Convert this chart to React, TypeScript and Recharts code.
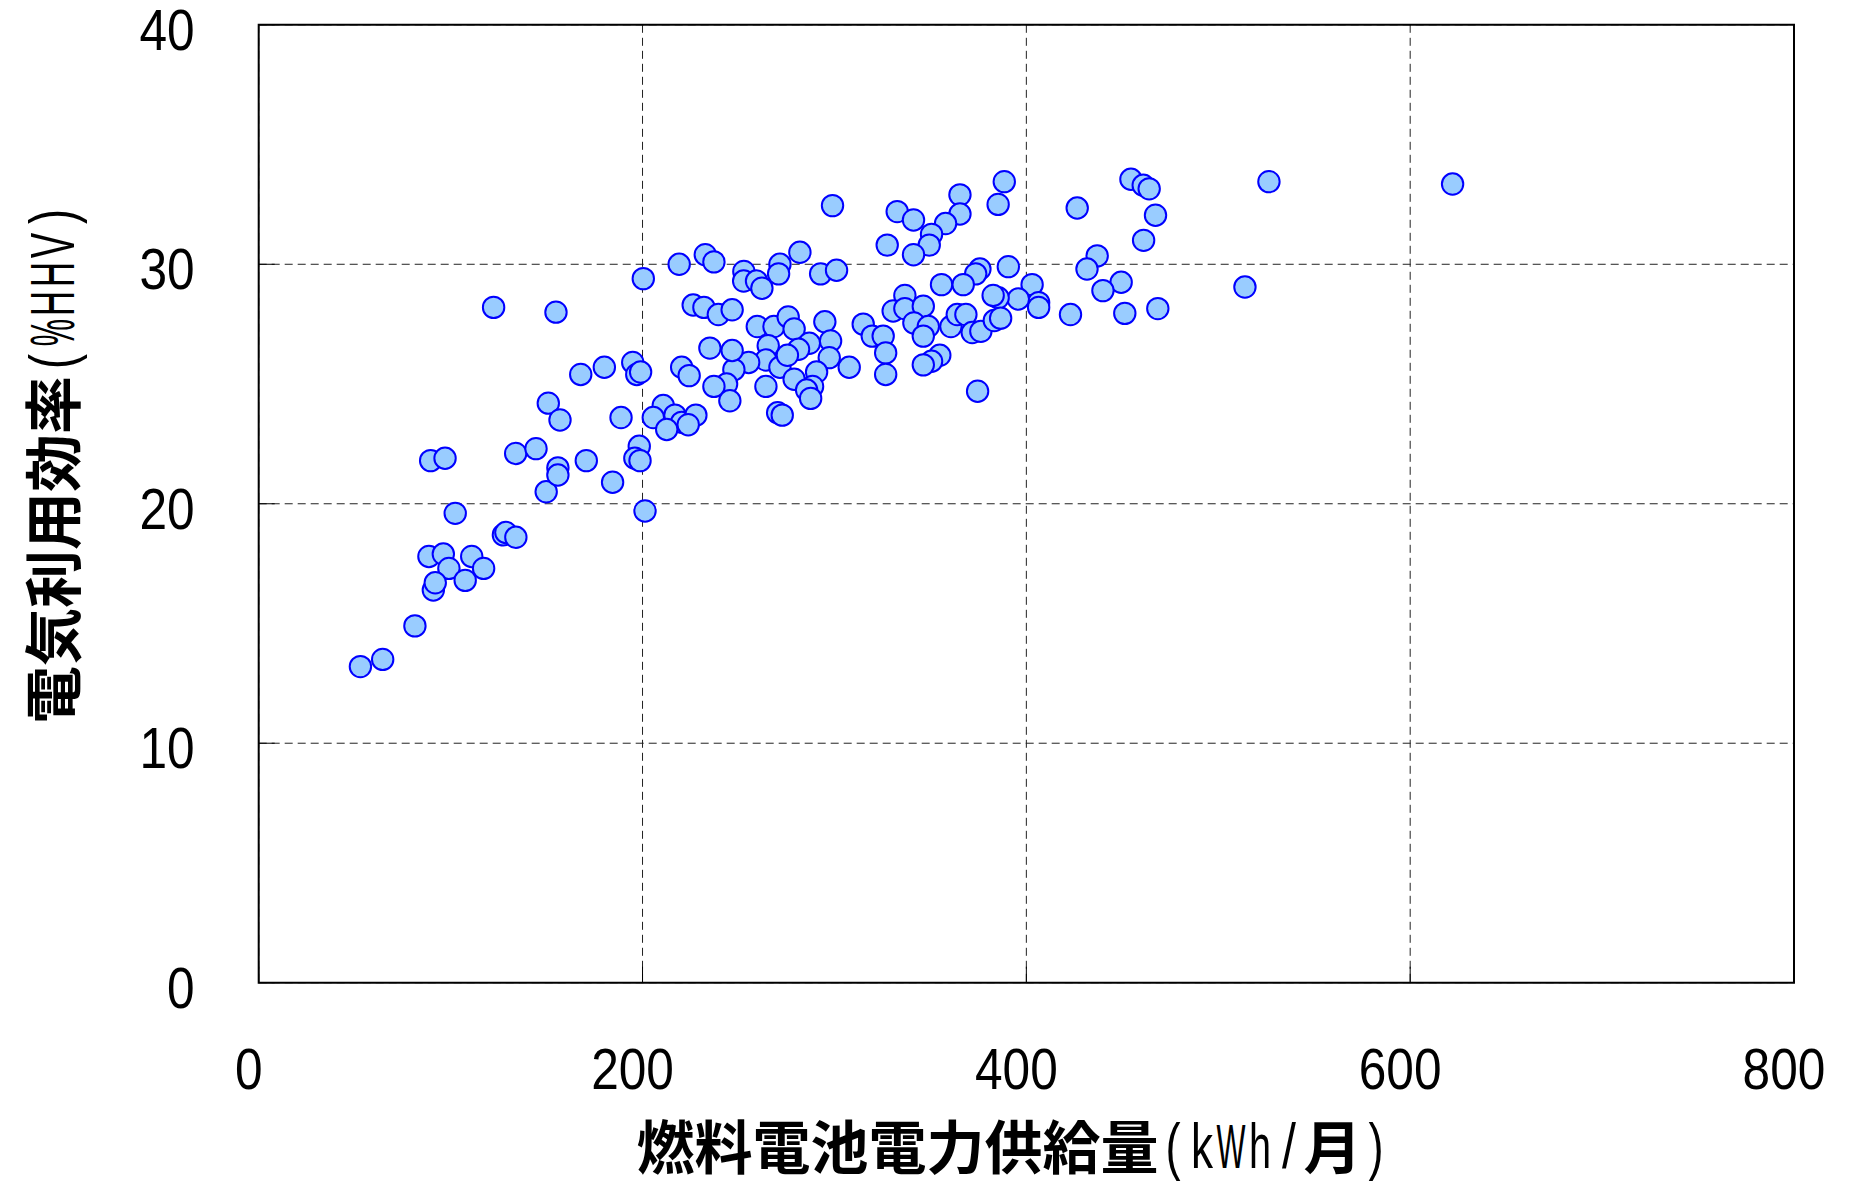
import React from 'react';
import { ScatterChart, Scatter, XAxis, YAxis, CartesianGrid, ReferenceArea, Label } from 'recharts';

// 燃料電池電力供給量 (kWh/月)
const supply = [
  53.0, 64.6, 81.4, 89.6, 97.1, 102.4, 88.7, 96.2, 99.1, 91.0,
  92.0, 107.6, 111.0, 117.2, 127.5, 128.8, 134.0, 133.9, 144.5, 150.9,
  157.0, 149.8, 155.9, 155.9, 170.7, 188.8, 184.4, 198.3, 196.0, 198.7,
  201.3, 122.4, 154.9, 167.8, 180.1, 194.9, 197.0, 199.0, 200.4, 219.1,
  232.7, 237.2, 282.0, 327.5, 252.8, 252.7, 259.4, 262.2, 271.6, 270.9,
  292.8, 301.1, 226.4, 232.0, 239.5, 246.7, 259.8, 268.5, 275.9, 279.0,
  295.0, 286.9, 281.3, 298.0, 297.3, 315.0, 319.7, 325.4, 326.7, 326.7,
  307.7, 265.5, 264.3, 271.6, 275.5, 255.3, 247.6, 246.7, 235.1, 243.8,
  237.2, 245.5, 264.3, 279.0, 290.7, 288.6, 285.5, 287.6, 270.4, 272.8,
  220.4, 224.3, 210.8, 205.6, 216.9, 220.4, 227.8, 223.8, 212.6, 299.0,
  388.5, 385.3, 365.4, 365.4, 332.7, 341.2, 357.9, 350.6, 349.4, 341.2,
  426.5, 454.5, 460.9, 464.0, 467.3, 461.1, 436.9, 431.6, 449.4, 439.9,
  451.3, 468.5, 423.0, 403.0, 406.4, 406.4, 395.8, 390.6, 375.8, 373.6,
  355.8, 367.1, 385.3, 382.7, 336.7, 330.6, 336.7, 346.3, 341.4, 348.9,
  346.3, 360.7, 364.0, 368.5, 371.8, 376.3, 383.3, 386.6, 354.9, 350.6,
  346.3, 374.6, 526.4, 513.9, 622.1,
];

// 電気利用効率 (%HHV)
const efficiency = [
  13.2, 13.5, 14.9, 21.8, 21.9, 19.6, 17.8, 17.9, 17.3, 16.4,
  16.7, 16.8, 17.8, 17.3, 18.7, 18.8, 18.6, 22.1, 22.3, 24.2,
  23.5, 20.5, 21.5, 21.2, 21.8, 23.6, 20.9, 22.4, 21.9, 21.8,
  19.7, 28.2, 28.0, 25.4, 25.7, 25.9, 25.4, 25.5, 29.4, 30.0,
  30.4, 30.1, 30.5, 30.8, 29.7, 29.3, 29.3, 29.0, 30.0, 29.6,
  29.6, 29.75, 28.3, 28.2, 27.9, 28.1, 27.4, 27.4, 27.8, 27.3,
  27.6, 26.7, 26.45, 26.8, 26.1, 27.5, 27.0, 27.0, 26.3, 25.4,
  25.7, 26.6, 26.0, 25.7, 26.2, 25.9, 25.6, 26.4, 26.5, 25.0,
  24.9, 24.3, 24.9, 25.2, 25.5, 24.9, 24.75, 24.4, 23.8, 23.7,
  25.7, 25.35, 24.1, 23.6, 23.7, 23.4, 23.7, 23.3, 23.1, 32.45,
  33.45, 32.5, 32.9, 32.1, 32.2, 31.85, 31.7, 31.25, 30.8, 30.4,
  32.35, 33.55, 33.3, 33.15, 32.05, 31.0, 30.35, 29.8, 29.25, 28.9,
  27.95, 28.15, 27.9, 29.15, 28.4, 28.2, 28.55, 29.9, 29.8, 29.6,
  29.15, 29.15, 28.6, 28.7, 28.7, 28.05, 28.15, 28.25, 27.55, 27.4,
  27.0, 27.4, 27.9, 27.9, 27.15, 27.2, 27.65, 27.75, 26.2, 25.95,
  25.8, 24.7, 33.45, 29.05, 33.35,
];

const xTicks = [0, 200, 400, 600, 800];
const yTicks = [0, 10, 20, 30, 40];
const xTitle = '燃料電池電力供給量(kWh/月)';
const yTitle = '電気利用効率(%HHV)';

const data = supply.map((x, i) => ({ x, y: efficiency[i] }));

const W = 1852;
const H = 1184;
const PLOT_LEFT = 258.7;
const PLOT_RIGHT = 1794;
const PLOT_TOP = 24.8;
const PLOT_BOTTOM = 982.7;
const YAXIS_W = 200;
const XAXIS_H = 120;

const NUM_FONT = '"Liberation Sans", Arial, sans-serif';
const CJK_FONT = '"Noto Sans CJK JP", "Noto Sans CJK SC", sans-serif';
const TITLE_EM = 58;
const TITLE_ASCII_SIZE = 63;
const TICK_FONT = 58;
const DIGIT_W = 27.6; // condensed digit advance

// condensed widths (in em of TITLE_EM) used to squeeze half-width glyphs into their cells
const narrowWidth: Record<string, number> = {
  '(': 0.26, ')': 0.26, k: 0.38, W: 0.5, h: 0.38, '/': 0.24, '%': 0.47, H: 0.44, V: 0.44,
};

const isWide = (ch: string) => ch.charCodeAt(0) > 0x2000;

function layoutTitle(text: string, em: number) {
  const chars = Array.from(text);
  const total = chars.reduce((s, c) => s + (isWide(c) ? em : em / 2), 0);
  let pos = -total / 2;
  return chars.map((ch) => {
    const w = isWide(ch) ? em : em / 2;
    const c = pos + w / 2;
    pos += w;
    return { ch, c, wide: isWide(ch) };
  });
}

const TitleChars = ({ text, cx, baseline }: { text: string; cx: number; baseline: number }) => (
  <g>
    {layoutTitle(text, TITLE_EM).map((s, i) =>
      s.wide ? (
        <text
          key={i}
          x={cx + s.c}
          y={baseline}
          textAnchor="middle"
          fontSize={TITLE_EM}
          fontFamily={CJK_FONT}
          fontWeight={700}
          fill="#000"
        >
          {s.ch}
        </text>
      ) : (
        <text
          key={i}
          x={cx + s.c - ((narrowWidth[s.ch] ?? 0.4) * TITLE_EM) / 2}
          y={baseline - 1}
          textAnchor="start"
          fontSize={TITLE_ASCII_SIZE}
          fontFamily={NUM_FONT}
          fontWeight={400}
          fill="#000"
          textLength={(narrowWidth[s.ch] ?? 0.4) * TITLE_EM}
          lengthAdjust="spacingAndGlyphs"
        >
          {s.ch}
        </text>
      )
    )}
  </g>
);

const renderXTitle = () => <TitleChars text={xTitle} cx={1013.5} baseline={1169} />;

const renderYTitle = () => {
  const cx = 75;
  const cy = 463;
  return (
    <g transform={`rotate(-90 ${cx} ${cy})`}>
      <TitleChars text={yTitle} cx={cx} baseline={cy} />
    </g>
  );
};

const XTick = (props: any) => {
  const { x, y, payload } = props;
  const label = String(payload.value);
  const w = label.length * DIGIT_W;
  return (
    <g>
      <line x1={x} x2={x} y1={y} y2={y - 16} stroke="#000" strokeWidth={1} />
      <text
        x={x - 10 - w / 2}
        y={y + 106}
        textAnchor="start"
        fontSize={TICK_FONT}
        fontFamily={NUM_FONT}
        fill="#000"
        textLength={w}
        lengthAdjust="spacingAndGlyphs"
      >
        {label}
      </text>
    </g>
  );
};

const YTick = (props: any) => {
  const { x, y, payload } = props;
  const label = String(payload.value);
  const w = label.length * DIGIT_W;
  return (
    <g>
      <line x1={x} x2={x + 16} y1={y} y2={y} stroke="#000" strokeWidth={1} />
      <text
        x={x - 64 - w}
        y={y + 25}
        textAnchor="start"
        fontSize={TICK_FONT}
        fontFamily={NUM_FONT}
        fill="#000"
        textLength={w}
        lengthAdjust="spacingAndGlyphs"
      >
        {label}
      </text>
    </g>
  );
};

const Dot = (props: any) => {
  const { cx, cy } = props;
  if (cx == null || cy == null) return null;
  return <circle cx={cx} cy={cy} r={10.7} fill="#99CCFF" stroke="#0000FF" strokeWidth={2} />;
};

export default function App() {
  return (
    <div style={{ position: 'absolute', left: 0, top: 0, width: W, height: H, background: '#fff' }}>
      <ScatterChart
        width={W}
        height={H}
        margin={{
          top: PLOT_TOP,
          right: W - PLOT_RIGHT,
          bottom: H - PLOT_BOTTOM - XAXIS_H,
          left: PLOT_LEFT - YAXIS_W,
        }}
      >
        <CartesianGrid
          stroke="#222"
          strokeWidth={1}
          strokeDasharray="8 5"
          horizontalValues={yTicks}
          verticalValues={xTicks}
        />
        <XAxis
          type="number"
          dataKey="x"
          domain={[0, 800]}
          ticks={xTicks}
          interval={0}
          height={XAXIS_H}
          axisLine={false}
          tickLine={false}
          tickSize={0}
          tickMargin={0}
          tick={<XTick />}
        >
          <Label content={renderXTitle} />
        </XAxis>
        <YAxis
          type="number"
          dataKey="y"
          domain={[0, 40]}
          ticks={yTicks}
          interval={0}
          width={YAXIS_W}
          axisLine={false}
          tickLine={false}
          tickSize={0}
          tickMargin={0}
          tick={<YTick />}
        >
          <Label content={renderYTitle} />
        </YAxis>
        <ReferenceArea
          x1={0}
          x2={800}
          y1={0}
          y2={40}
          fill="none"
          stroke="#000"
          strokeWidth={2}
          ifOverflow="visible"
        />
        <Scatter data={data} shape={<Dot />} isAnimationActive={false} />
      </ScatterChart>
    </div>
  );
}
